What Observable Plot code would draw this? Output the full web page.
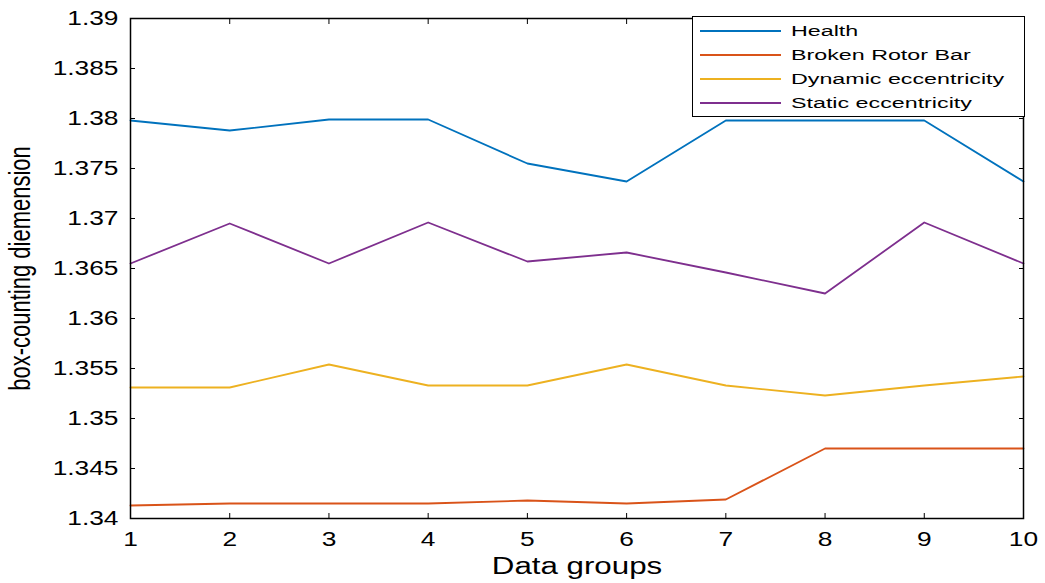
<!DOCTYPE html>
<html>
<head>
<meta charset="utf-8">
<script src="https://cdn.jsdelivr.net/npm/d3@7"></script>
<script src="https://cdn.jsdelivr.net/npm/@observablehq/plot@0.6"></script>
<style>
  html, body { margin: 0; padding: 0; background: #fff; }
  #wrap { position: relative; width: 1045px; height: 583px; }
  #legend { position: absolute; left: 692px; top: 16px; width: 331px; height: 99px;
    border: 1.5px solid #000; background: #fff; font-family: "Liberation Sans", Arial, sans-serif; }
  .item { position: absolute; left: 0; height: 24px; display: flex; align-items: center; }
  .item svg { margin-left: 7px; }
  .item span { display: inline-block; margin-left: 10px; font-size: 15.5px; color: #000; white-space: nowrap;
    transform: scaleX(1.5); transform-origin: left center; }
</style>
</head>
<body>
<div id="wrap"></div>
<script>
const groups = [1, 2, 3, 4, 5, 6, 7, 8, 9, 10];
const seriesNames = ["Health", "Broken Rotor Bar", "Dynamic eccentricity", "Static eccentricity"];
const seriesColors = ["#0072BD", "#D95319", "#EDB120", "#7E2F8E"];
const health  = [1.3798, 1.3788, 1.3799, 1.3799, 1.3755, 1.3737, 1.3798, 1.3798, 1.3798, 1.3737];
const broken  = [1.3413, 1.3415, 1.3415, 1.3415, 1.3418, 1.3415, 1.3419, 1.3470, 1.3470, 1.3470];
const dynamic = [1.3531, 1.3531, 1.3554, 1.3533, 1.3533, 1.3554, 1.3533, 1.3523, 1.3533, 1.3542];
const statics = [1.3655, 1.3695, 1.3655, 1.3696, 1.3657, 1.3666, 1.3646, 1.3625, 1.3696, 1.3655];
const yTicks = [1.34, 1.345, 1.35, 1.355, 1.36, 1.365, 1.37, 1.375, 1.38, 1.385, 1.39];
const yTickLabels = ["1.34", "1.345", "1.35", "1.355", "1.36", "1.365", "1.37", "1.375", "1.38", "1.385", "1.39"];

const allValues = [health, broken, dynamic, statics];
const data = allValues.flatMap((vals, i) => vals.map((v, j) => ({group: groups[j], value: v, series: seriesNames[i]})));

const chart = Plot.plot({
  width: 1045,
  height: 583,
  marginLeft: 130,
  marginRight: 22,
  marginTop: 18,
  marginBottom: 65,
  style: {fontFamily: "Liberation Sans, Arial, sans-serif", fontSize: "19.5px", color: "#000", background: "#fff"},
  x: {domain: [1, 10]},
  y: {domain: [1.34, 1.39]},
  color: {domain: seriesNames, range: seriesColors},
  marks: [
    Plot.line(data, {x: "group", y: "value", z: "series", stroke: "series", strokeWidth: 1.8}),
    Plot.axisX({ticks: groups, tickSize: -5, tickPadding: 19, tickFormat: d => String(d),
      label: "Data groups", labelArrow: "none", labelAnchor: "center", labelOffset: 55}),
    Plot.axisX({anchor: "top", ticks: groups, tickSize: -5, tickFormat: () => "", label: null}),
    Plot.axisY({ticks: yTicks, tickSize: -5, tickPadding: 17, tickFormat: d => yTickLabels[yTicks.indexOf(d)] ?? "",
      label: "box-counting diemension", labelArrow: "none", labelAnchor: "center", labelOffset: 121}),
    Plot.axisY({anchor: "right", ticks: yTicks, tickSize: -5, tickFormat: () => "", label: null}),
    Plot.frame({stroke: "#000", strokeWidth: 1.5})
  ]
});

function stretch(sel, sx, sy) {
  sel.each(function() {
    const t = this.getAttribute("transform") || "";
    this.setAttribute("transform", `${t} scale(${sx},${sy})`.trim());
  });
}

const svg = d3.select(chart);
stretch(svg.selectAll("g[aria-label='x-axis tick label'] text, g[aria-label='y-axis tick label'] text"), 1.35, 1);
svg.selectAll("g[aria-label='x-axis label'] text").style("font-size", "23px");
stretch(svg.selectAll("g[aria-label='x-axis label'] text"), 1.36, 1);
svg.selectAll("g[aria-label='y-axis label'] text").style("font-size", "22px");
stretch(svg.selectAll("g[aria-label='y-axis label'] text"), 1, 1.3);

const wrap = document.getElementById("wrap");
wrap.appendChild(chart);

const legend = document.createElement("div");
legend.id = "legend";
const itemTops = [2, 26, 50, 74];
seriesNames.forEach((name, i) => {
  const item = document.createElement("div");
  item.className = "item";
  item.style.top = itemTops[i] + "px";
  item.innerHTML = `<svg width="81" height="4"><line x1="0" y1="2" x2="81" y2="2" stroke="${seriesColors[i]}" stroke-width="2"/></svg><span>${name}</span>`;
  legend.appendChild(item);
});
wrap.appendChild(legend);
</script>
</body>
</html>
